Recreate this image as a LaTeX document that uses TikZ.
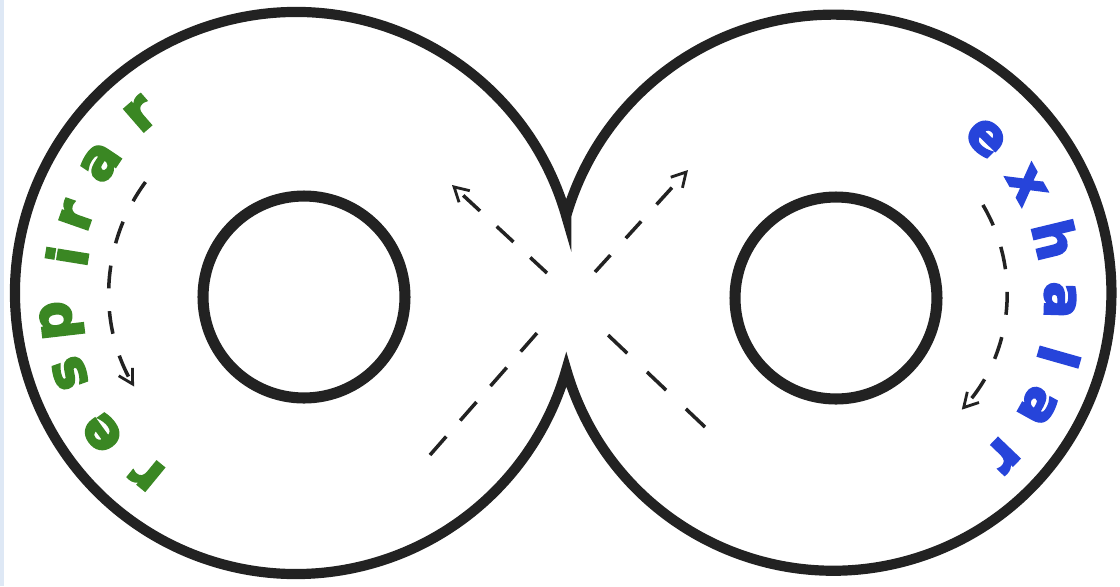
\documentclass[tikz,border=0pt]{standalone}
\usepackage{fontspec}
\newfontfamily\heavyfont{DejaVu Sans Bold}[FakeBold=4]
\usetikzlibrary{arrows.meta}
\definecolor{inkline}{RGB}{34,34,34}
\definecolor{resgreen}{RGB}{58,135,35}
\definecolor{exblue}{RGB}{38,68,218}
\definecolor{edgeblue}{RGB}{222,232,245}
\tikzset{
  outerline/.style={draw=inkline,line width=5.8pt,line join=miter},
  innerline/.style={draw=inkline,line width=6.3pt},
  flowline/.style={draw=inkline,line width=2pt,dash pattern=on 13pt off 13pt},
  flowarrow/.style={flowline,-{Straight Barb[length=8pt,width=9pt,line width=1.6pt]}},
  letter/.style={inner sep=0pt,font=\heavyfont\fontsize{31}{31}\selectfont},
}
\begin{document}
\begin{tikzpicture}[x=0.02cm,y=0.02cm]
\useasboundingbox (0,0) rectangle (1120,-586);
\fill[white] (0,0) rectangle (1120,-586);
\fill[edgeblue] (0,0) rectangle (4,-586);
% centres
\coordinate (L) at (296,-293);
\coordinate (R) at (834,-293);
\coordinate (cusptop) at (566.3,-216.2);
% outer infinity outline
\draw[outerline] (cusptop) arc[start angle=15.86,end angle=344.14,radius=281]
  arc[start angle=196.1,end angle=523.9,radius=278] -- cycle;
% inner circles
\node[circle,innerline,minimum size=4.04cm,inner sep=0pt] (holeL) at (304,-297) {};
\node[circle,innerline,minimum size=4.04cm,inner sep=0pt] (holeR) at (836,-298) {};
% side dashed arcs
\coordinate (la) at ([shift={(143.6:187)}]L);
\draw[flowarrow] (la) arc[start angle=143.6,end angle=210,radius=187];
\coordinate (ra) at ([shift={(30.6:173)}]R);
\draw[flowarrow] (ra) arc[start angle=30.6,end angle=-42.4,radius=173];
% crossing diagonals
\coordinate (d1a) at (705,-427);
\coordinate (d1b) at (608,-335);
\coordinate (d1c) at (547,-273);
\coordinate (d1tip) at (452,-185);
\coordinate (d2a) at (430,-455);
\coordinate (d2b) at (537,-333);
\coordinate (d2c) at (595,-272);
\coordinate (d2tip) at (688,-170);
\draw[flowline,dash pattern=on 15pt off 15.5pt] (d1a) -- (d1b);
\draw[flowarrow] (d1c) -- (d1tip);
\draw[flowline,dash pattern=on 14pt off 12.1pt] (d2a) -- (d2b);
\draw[flowarrow] (d2c) -- (d2tip);
% texts
\foreach \ch/\ang/\rad [count=\i] in {r/230.6/234,e/215.8/239,s/199.5/240,p/186.6/236,i/170.8/232,r/160.7/233,a/146.2/235,r/131.0/237}
  \node[letter,text=resgreen,rotate=\ang-90] (res\i) at ([shift={(\ang:\rad)}]L) {\ch};
\foreach \ch/\ang/\rad [count=\i] in {e/45.6/217,x/29.4/221,h/13.6/228,a/-1.8/226,l/-15.9/234,a/-29/233,r/-43.8/234}
  \node[letter,text=exblue,rotate=\ang-90] (exh\i) at ([shift={(\ang:\rad)}]R) {\ch};
\end{tikzpicture}
\end{document}
